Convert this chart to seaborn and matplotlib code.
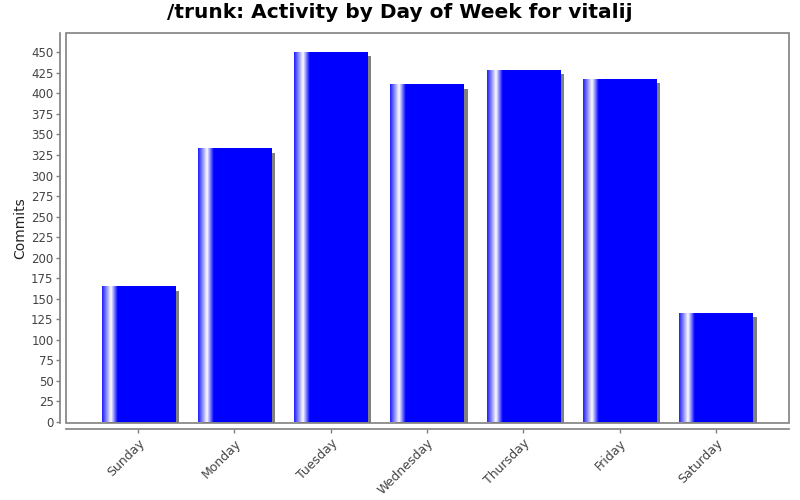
import numpy as np
import pandas as pd
import matplotlib
matplotlib.use('Agg')
import matplotlib.pyplot as plt
import matplotlib.patheffects as pe
from matplotlib.patches import Rectangle
from matplotlib.colors import LinearSegmentedColormap
import seaborn as sns

days = ['Sunday', 'Monday', 'Tuesday', 'Wednesday', 'Thursday', 'Friday', 'Saturday']
commits = [165, 333, 450, 411, 429, 418, 133]
yticks = list(range(0, 451, 25))

df = pd.DataFrame({'Day': days, 'Commits': commits})

sns.set_theme(style='white')
plt.rcParams['font.family'] = ['DejaVu Sans']

fig = plt.figure(figsize=(8, 5), dpi=100)
ax = fig.add_axes([66 / 800, 1 - 423 / 500, 723 / 800, 390 / 500])

sns.barplot(data=df, x='Day', y='Commits', color='#0000ff', saturation=1,
            width=0.76, ax=ax)

# JFreeChart-like gradient highlight near the left edge of each bar
grad = LinearSegmentedColormap.from_list(
    'jf', [(0.0, '#2020ff'), (0.12, '#ffffff'), (0.21, '#0000ff'), (1.0, '#0000ff')])
ramp = np.linspace(0, 1, 200).reshape(1, -1)
for bar in ax.patches:
    bar.set_edgecolor('none')
    bar.set_path_effects([pe.SimplePatchShadow(offset=(3, -3), shadow_rgbFace='#808080', alpha=1.0),
                          pe.Normal()])
    x0, w, h = bar.get_x(), bar.get_width(), bar.get_height()
    im = ax.imshow(ramp, cmap=grad, aspect='auto', extent=(x0, x0 + w, 0, h),
                   interpolation='bilinear', zorder=bar.get_zorder() + 0.1)
    im.set_clip_path(bar)

ax.set_xlim(-0.75, len(days) - 1 + 0.76)
ax.set_ylim(-1.2, 473.5)
ax.set_yticks(yticks)

# plot area border
ax.add_patch(Rectangle((0, 0), 1, 1, transform=ax.transAxes, fill=False,
                       edgecolor='#808080', linewidth=1.2, clip_on=False, zorder=5))

for side in ['top', 'right']:
    ax.spines[side].set_visible(False)
for side in ['left', 'bottom']:
    ax.spines[side].set_position(('outward', 4))
    ax.spines[side].set_color('#808080')
    ax.spines[side].set_linewidth(1.2)

ax.tick_params(axis='both', which='major', length=3, width=1, color='#808080',
               labelcolor='#444444', direction='out', pad=2,
               bottom=True, left=True)
ax.tick_params(axis='y', labelsize=8.5)
ax.tick_params(axis='x', labelsize=9, pad=3)
plt.setp(ax.get_xticklabels(), rotation=45, ha='right', rotation_mode='anchor')

ax.set_xlabel('')
ax.set_ylabel('Commits', fontsize=10, color='#222222', labelpad=3)
fig.suptitle('/trunk: Activity by Day of Week for vitalij', fontsize=14.5,
             fontweight='bold', color='black', y=0.995, va='top')

fig.savefig('out.png', dpi=100)
